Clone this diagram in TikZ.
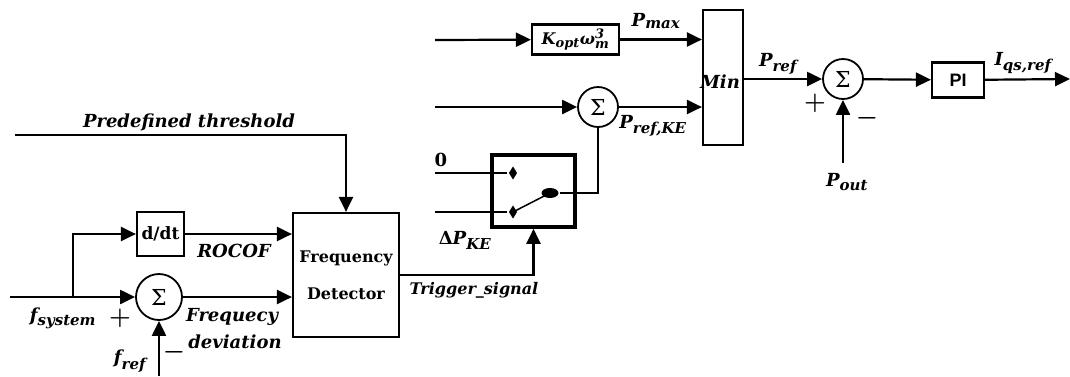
\documentclass[tikz,border=0pt]{standalone}
\usepackage{amsmath,amssymb}
\usepackage{fontspec}
\setmainfont{DejaVu Serif}
\newfontfamily\arialfont{Liberation Sans}
\usetikzlibrary{arrows.meta,shapes.geometric}
\newcommand{\tx}[1]{\text{#1}}
\DeclareMathSizes{18}{18}{15}{12}
\DeclareMathSizes{16}{16}{13}{10}

\begin{document}
\begin{tikzpicture}[x=1pt,y=-1pt,line width=2.2pt,
    >={Triangle[length=15pt,width=14pt]},
    blk/.style={rectangle,draw,line width=2.2pt,inner sep=0pt},
    sumc/.style={circle,draw,line width=1.8pt,minimum size=40pt,inner sep=0pt,font=\fontsize{22}{22}\selectfont},
    lbl/.style={font=\bfseries\itshape\fontsize{18}{21}\selectfont,inner sep=0pt},
    sgn/.style={font=\boldmath\fontsize{26}{26}\selectfont,inner sep=0pt},
    pin/.style={diamond,fill=black,minimum width=9pt,minimum height=14pt,inner sep=0pt}]
\useasboundingbox (0,0) rectangle (1070,376);
\node[blk,minimum width=47pt,minimum height=44pt,font=\bfseries\fontsize{17}{20}\selectfont] (ddt) at (160.5,234) {d/dt};
\node[sumc,minimum size=46pt] (s1) at (159,297) {Σ};
\node[blk,minimum width=106pt,minimum height=124pt,align=center,font=\bfseries\fontsize{16}{37}\selectfont] (fd) at (346,275) {Frequency\\Detector};
\node[blk,line width=3.6pt,minimum width=83pt,minimum height=72pt] (sw) at (533.5,191) {};
\node[blk,minimum width=87pt,minimum height=30pt,font=\bfseries\itshape\fontsize{16}{18}\selectfont] (kopt) at (575.5,39.5) {$\tx{K}_{\tx{opt}}\tx{ω}_{\tx{m}}^{\tx{3}}$};
\node[sumc] (s2) at (598,107) {Σ};
\node[blk,minimum width=40pt,minimum height=135pt] (mn) at (723,77.5) {};
\node[sumc] (s3) at (843,79) {Σ};
\node[blk,minimum width=52pt,minimum height=35pt,font=\arialfont\bfseries\fontsize{18}{20}\selectfont] (pi) at (958,80) {PI};
\node[pin] (p0) at (513,173) {};
\node[pin] (p1) at (513,212) {};
\node[ellipse,fill=black,minimum width=17pt,minimum height=10pt,inner sep=0pt] (lev) at (550,193) {};

\coordinate (a1) at (435,40);
\coordinate (a2) at (435,107);
\coordinate (a0) at (435,173);
\coordinate (ake) at (435,212);
\coordinate (fin) at (10,297);
\coordinate (br) at (73,297);
\coordinate (thr) at (15,135);
\coordinate (fr) at (159,376);
\coordinate (po) at (843,163);
\coordinate (out) at (1070,79);

\draw[->] (thr) -| (fd);
\draw[->] (fin) -- (s1);
\draw[->] (br) |- (ddt);
\draw[->] (ddt) -- (fd.west |- ddt);
\draw[->] (s1) -- (fd.west |- s1);
\draw[->] (fr) -- (s1);
\draw[->] (fd) -| (sw);
\draw (a0) -- (p0);
\draw (ake) -- (p1);
\draw[line width=1.5pt] (p1.center) -- (lev.center);
\draw (lev) -| (s2);
\draw[->] (a1) -- (kopt);
\draw[->] (kopt) -- (mn.west |- kopt);
\draw[->] (a2) -- (s2);
\draw[->] (s2) -- (mn.west |- s2);
\draw[->] (mn.east |- s3) -- (s3);
\draw[->] (po) -- (s3);
\draw[->] (s3) -- (pi);
\draw[->] (pi) -- (out);

\node[lbl] (lth) at (189,122) {Predefined threshold};
\node[lbl] (lfs) at (63,318) {$\tx{f}_{\tx{system}}$};
\node[sgn] (pl1) at (120,318) {$+$};
\node[lbl] (lfr) at (130,361) {$\tx{f}_{\tx{ref}}$};
\node[sgn] (mi1) at (174,352) {$-$};
\node[lbl] (lroc) at (234,251) {ROCOF};
\node[lbl] (lfq) at (232,317) {Frequecy};
\node[lbl] (ldev) at (235,342) {deviation};
\node[lbl,font=\bfseries\itshape\fontsize{16}{20}\selectfont] (ltr) at (474,290) {Trigger\_signal};
\node[lbl,font=\bfseries\fontsize{18}{21}\selectfont] (l0) at (441,160) {0};
\node[lbl] (lke) at (465,240) {$\tx{\upshape Δ}\tx{P}_{\tx{KE}}$};
\node[lbl] (lmax) at (656,21) {$\tx{P}_{\tx{max}}$};
\node[lbl] (lrke) at (653,126) {$\tx{P}_{\tx{ref,KE}}$};
\node[lbl,anchor=east] (lmin) at (741,82) {Min};
\node[lbl] (lref) at (778,64) {$\tx{P}_{\tx{ref}}$};
\node[sgn] (pl2) at (815,103) {$+$};
\node[sgn] (mi2) at (867,118) {$-$};
\node[lbl] (lout) at (847,182) {$\tx{P}_{\tx{out}}$};
\node[lbl] (liq) at (1023,63) {$\tx{I}_{\tx{qs,ref}}$};
\end{tikzpicture}
\end{document}
